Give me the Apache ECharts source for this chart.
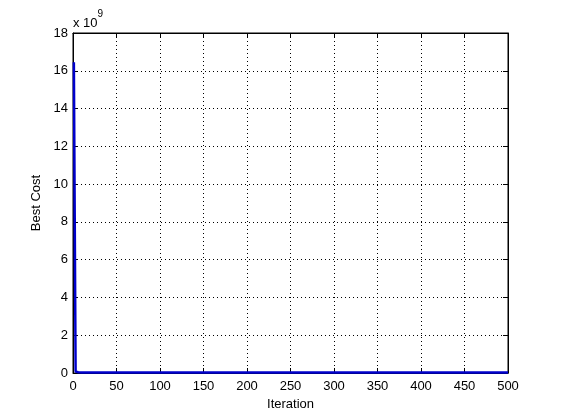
<!DOCTYPE html>
<html><head><meta charset="utf-8">
<script src="https://cdn.jsdelivr.net/npm/echarts@6/dist/echarts.min.js"></script>
<style>html,body{margin:0;padding:0;background:#fff}#c{width:561px;height:420px}</style>
</head><body><div id="c"></div>
<script>
// Data (Best Cost in units of 1e9)
const iterations = [1, 2, 3, 4, 6, 10, 20, 50, 100, 200, 300, 400, 500];
const bestCost = [16.45, 8.2, 0.08, 0.05, 0.04, 0.03, 0.03, 0.02, 0.02, 0.02, 0.02, 0.02, 0.02];
const xTicks = [0, 50, 100, 150, 200, 250, 300, 350, 400, 450, 500];
const yTicks = [0, 2, 4, 6, 8, 10, 12, 14, 16, 18];

const chart = echarts.init(document.getElementById('c'), null, {renderer: 'canvas'});
const font = 'Liberation Sans, Arial, sans-serif';
const tickLen = 5;
const common = () => ({
  axisLine: {show: true, onZero: false, lineStyle: {color: '#000', width: 1}},
  axisTick: {show: true, inside: true, length: tickLen, lineStyle: {color: '#000'}},
});
chart.setOption({
  animation: false,
  backgroundColor: '#fff',
  grid: {left: 73, right: 53, top: 33, bottom: 47, containLabel: false,
         show: true, borderColor: '#000', borderWidth: 1, backgroundColor: 'transparent'},
  xAxis: [
    Object.assign({
      type: 'value', min: xTicks[0], max: xTicks[xTicks.length - 1], interval: 50,
      name: 'Iteration', nameLocation: 'middle', nameGap: 24,
      nameTextStyle: {fontFamily: font, fontSize: 13, color: '#000'},
      axisLabel: {fontFamily: font, fontSize: 13, color: '#000', margin: 7},
      splitLine: {show: true, lineStyle: {color: '#000', type: [1, 3], width: 1}}
    }, common()),
    Object.assign({
      type: 'value', position: 'top', min: 0, max: 500, interval: 50,
      axisLabel: {show: false}, splitLine: {show: false}
    }, common())
  ],
  yAxis: [
    Object.assign({
      type: 'value', min: yTicks[0], max: yTicks[yTicks.length - 1], interval: 2,
      name: 'Best Cost', nameLocation: 'middle', nameGap: 26,
      nameTextStyle: {fontFamily: font, fontSize: 13, color: '#000'},
      axisLabel: {fontFamily: font, fontSize: 13, color: '#000', margin: 5},
      splitLine: {show: true, lineStyle: {color: '#000', type: [1, 3], width: 1}}
    }, common()),
    Object.assign({
      type: 'value', position: 'right', min: 0, max: 18, interval: 2,
      axisLabel: {show: false}, splitLine: {show: false}
    }, common())
  ],
  series: [{
    type: 'line',
    data: iterations.map((x, i) => [x, bestCost[i]]),
    showSymbol: false,
    lineStyle: {color: '#0000cc', width: 2.5},
    z: 5
  }, {
    type: 'line', xAxisIndex: 1, yAxisIndex: 1, data: [], showSymbol: false, silent: true
  }],
  graphic: [{
    type: 'text', left: 73, top: 9,
    style: {
      text: '{a|x 10}{b|9}',
      rich: {
        a: {fontFamily: font, fontSize: 13, fill: '#000', padding: [8, 0, 0, 0]},
        b: {fontFamily: font, fontSize: 10, fill: '#000', verticalAlign: 'top'}
      }
    }
  }]
});
</script></body></html>
